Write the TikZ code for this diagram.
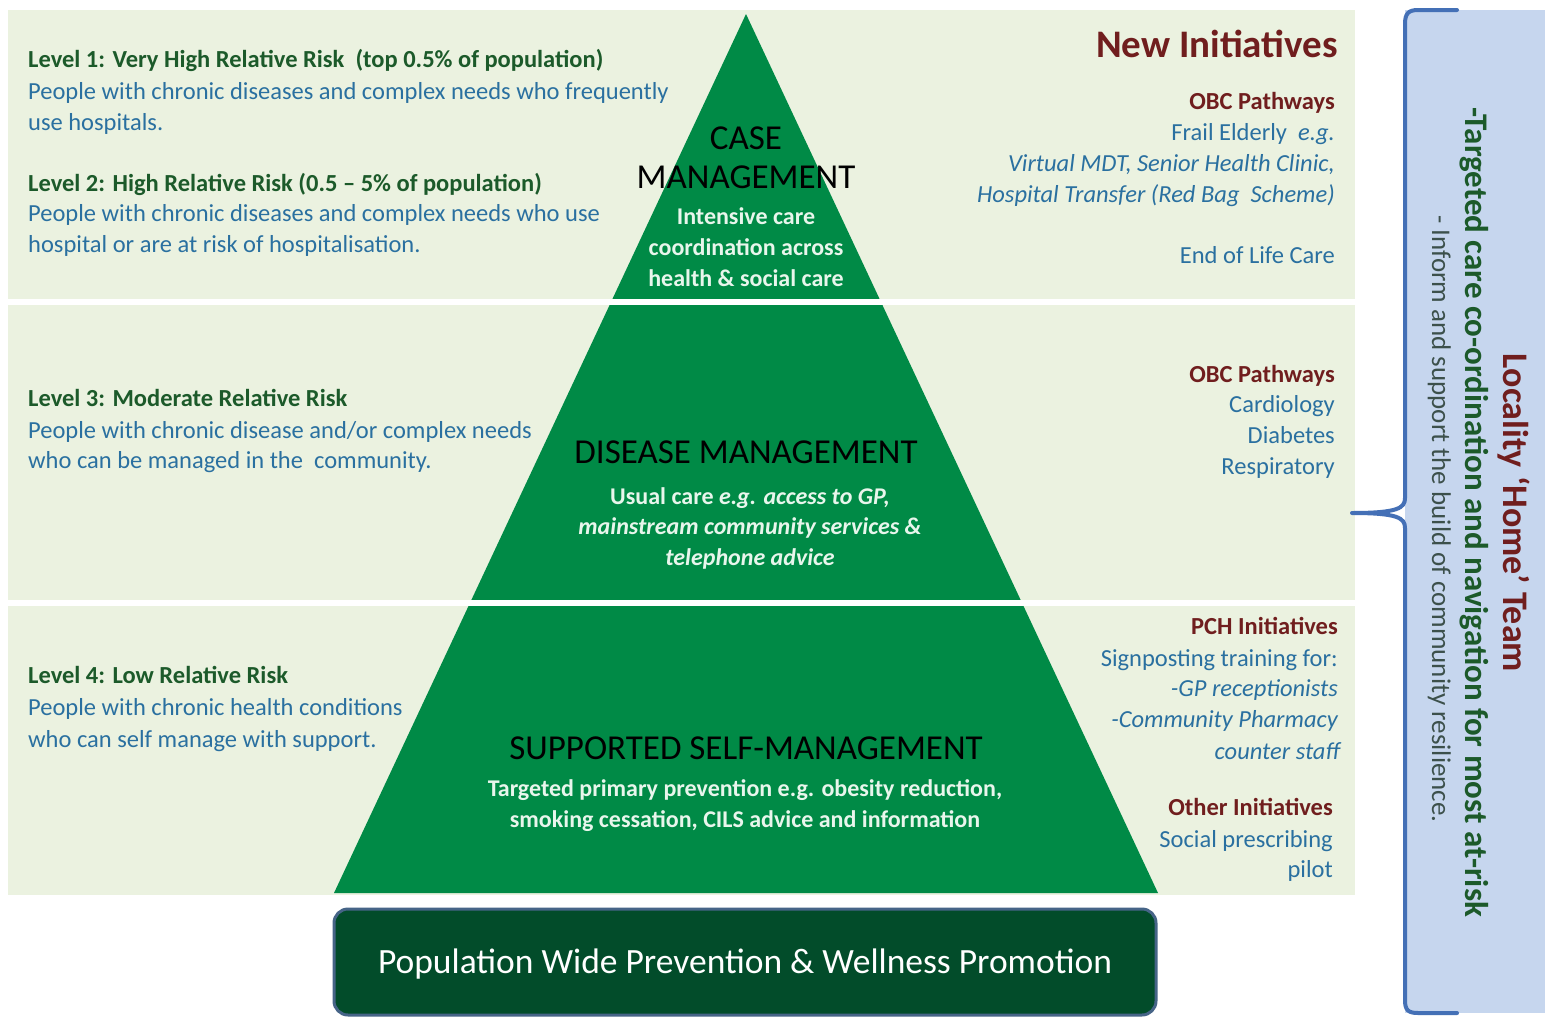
\documentclass[tikz,border=0pt]{standalone}
\usepackage{fontspec}
\setmainfont{Carlito}
\definecolor{bandgreen}{RGB}{235,242,224}
\definecolor{pyrgreen}{RGB}{0,138,70}
\definecolor{hdgreen}{RGB}{28,90,42}
\definecolor{txtblue}{RGB}{42,112,160}
\definecolor{dkred}{RGB}{112,30,30}
\definecolor{pyrtext}{RGB}{232,246,236}
\definecolor{boxgreen}{RGB}{2,76,42}
\definecolor{boxborder}{RGB}{70,100,135}
\definecolor{panelblue}{RGB}{198,214,238}
\definecolor{braceblue}{RGB}{68,112,182}
\definecolor{greytext}{RGB}{60,80,75}
\begin{document}
\begin{tikzpicture}[x=1pt,y=-1pt,
  lvl/.style={anchor=base west,inner sep=0pt,font=\fontsize{24.5}{28}\selectfont\bfseries,text=hdgreen},
  bodyl/.style={anchor=base west,inner sep=0pt,font=\fontsize{24.5}{28}\selectfont,text=txtblue},
  rhead/.style={anchor=base east,inner sep=0pt,font=\fontsize{24.5}{28}\selectfont\bfseries,text=dkred},
  rbody/.style={anchor=base east,inner sep=0pt,font=\fontsize{24.5}{28}\selectfont,text=txtblue},
  ptitle/.style={anchor=base,inner sep=0pt,font=\fontsize{35}{40}\selectfont,text=black},
  psub/.style={anchor=base,inner sep=0pt,font=\fontsize{24}{28}\selectfont\bfseries,text=pyrtext},
  vtext/.style={anchor=base,inner sep=0pt,rotate=-90},
]
\useasboundingbox (0,0) rectangle (1545,1020);
\fill[white] (0,0) rectangle (1545,1020);
% background bands
\fill[bandgreen] (8,10) rectangle (1355,895);
% pyramid
\fill[pyrgreen] (746,14) -- (1158,893) -- (334,893) -- cycle;
% white separations
\fill[white] (0,299) rectangle (1360,305);
\fill[white] (0,600) rectangle (1360,606);
% right panel and brace
\fill[panelblue] (1405,10) rectangle (1545,1013);
\draw[braceblue,line width=4pt,line cap=round,line join=round]
  (1457,10) -- (1418,10) .. controls (1408,10) and (1405,14) .. (1405,24)
  -- (1405,498) .. controls (1405,508) and (1398,513) .. (1352,513)
  .. controls (1398,513) and (1405,518) .. (1405,528)
  -- (1405,1000) .. controls (1405,1010) and (1408,1013) .. (1418,1013) -- (1457,1013);
% bottom box
\node[draw=boxborder,line width=3pt,fill=boxgreen,rounded corners=14pt,
  minimum width=822pt,minimum height=106pt,inner sep=0pt,
  text=white,font=\fontsize{35.5}{40}\selectfont,text height=22pt,text depth=0pt]
  (popbox) at (745,962) {Population Wide Prevention \& Wellness Promotion};
% left texts
\node[lvl] (l1h) at (28,67) {Level 1: Very High Relative Risk\ \ (top 0.5\% of population)};
\node[bodyl] (l1a) at (28,99) {People with chronic diseases and complex needs who frequently};
\node[bodyl] (l1b) at (28,130) {use hospitals.};
\node[lvl] (l2h) at (28,191) {Level 2: High Relative Risk (0.5 – 5\% of population)};
\node[bodyl] (l2a) at (28,221) {People with chronic diseases and complex needs who use};
\node[bodyl] (l2b) at (28,252) {hospital or are at risk of hospitalisation.};
\node[lvl] (l3h) at (28,406) {Level 3: Moderate Relative Risk};
\node[bodyl] (l3a) at (28,438) {People with chronic disease and/or complex needs};
\node[bodyl] (l3b) at (28,468) {who can be managed in the\ \ community.};
\node[lvl] (l4h) at (28,683) {Level 4: Low Relative Risk};
\node[bodyl] (l4a) at (28,715) {People with chronic health conditions};
\node[bodyl] (l4b) at (28,747) {who can self manage with support.};
% right texts
\node[rhead,font=\fontsize{39}{44}\selectfont\bfseries] (newin) at (1338,57) {New Initiatives};
\node[rhead] (obc1) at (1335,109) {OBC Pathways};
\node[rbody] (r1a) at (1335,140) {Frail Elderly\ \ \textit{e.g.}};
\node[rbody] (r1b) at (1335,171) {\itshape Virtual MDT, Senior Health Clinic,};
\node[rbody] (r1c) at (1335,202) {\itshape Hospital Transfer (Red Bag\ \ Scheme)};
\node[rbody] (r1d) at (1335,263) {End of Life Care};
\node[rhead] (obc2) at (1335,382) {OBC Pathways};
\node[rbody] (r2a) at (1335,412) {Cardiology};
\node[rbody] (r2b) at (1335,443) {Diabetes};
\node[rbody] (r2c) at (1335,474) {Respiratory};
\node[rhead] (pch) at (1338,634) {PCH Initiatives};
\node[rbody] (r3a) at (1338,666) {Signposting training for:};
\node[rbody] (r3b) at (1338,696) {\itshape -GP receptionists};
\node[rbody] (r3c) at (1338,727) {\itshape -Community Pharmacy};
\node[rbody] (r3d) at (1340,759) {\itshape counter staff};
\node[rhead] (oth) at (1333,815) {Other Initiatives};
\node[rbody] (r4a) at (1333,847) {Social prescribing};
\node[rbody] (r4b) at (1333,877) {pilot};
% pyramid texts
\node[ptitle] (case1) at (746,149) {CASE};
\node[ptitle] (case2) at (746,188) {MANAGEMENT};
\node[psub] (cs1) at (746,224) {Intensive care};
\node[psub] (cs2) at (746,255) {coordination across};
\node[psub] (cs3) at (746,286) {health \& social care};
\node[ptitle] (dis) at (746,463) {DISEASE MANAGEMENT};
\node[psub] (ds1) at (750,504) {Usual care \textit{e.g. access to GP,}};
\node[psub] (ds2) at (750,534) {\itshape mainstream community services \&};
\node[psub] (ds3) at (750,565) {\itshape telephone advice};
\node[ptitle] (ssm) at (746,759) {SUPPORTED SELF-MANAGEMENT};
\node[psub] (ss1) at (745,796) {Targeted primary prevention e.g. obesity reduction,};
\node[psub] (ss2) at (745,827) {smoking cessation, CILS advice and information};
% vertical texts
\node[vtext,font=\fontsize{36}{40}\selectfont\bfseries,text=dkred] (loc) at (1503,513) {Locality ‘Home’ Team};
\node[vtext,font=\fontsize{33}{36}\selectfont\bfseries,text=hdgreen] (tgt) at (1465,512) {-Targeted care co-ordination and navigation for most at-risk};
\node[vtext,font=\fontsize{27}{30}\selectfont,text=greytext] (inf) at (1432,519) {- Inform and support the build of community resilience.};
\end{tikzpicture}
\end{document}
